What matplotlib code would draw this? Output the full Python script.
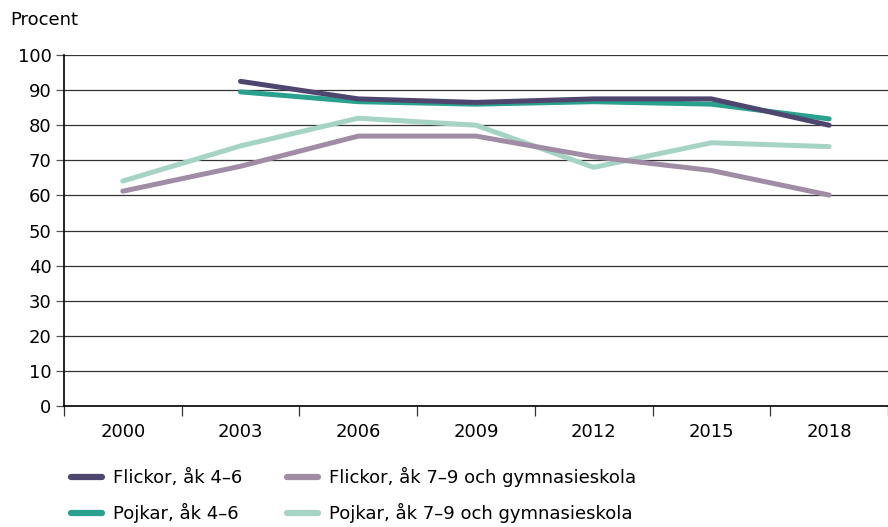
import numpy as np
import matplotlib.pyplot as plt
from matplotlib.lines import Line2D

years = ['2000', '2003', '2006', '2009', '2012', '2015', '2018']
flickor_4_6 = [np.nan, 92.5, 87.5, 86.5, 87.5, 87.5, 80]
pojkar_4_6 = [np.nan, 89.5, 86.7, 86, 86.7, 86, 81.8]
flickor_7_9 = [61.2, 68.3, 76.9, 76.9, 71, 67.1, 60.1]
pojkar_7_9 = [64.1, 74.1, 82, 80, 68, 75, 73.9]

labels = ['Flickor, åk 4–6', 'Pojkar, åk 4–6',
          'Flickor, åk 7–9 och gymnasieskola', 'Pojkar, åk 7–9 och gymnasieskola']
colors = ['#4f4670', '#2aa08e', '#a18ca6', '#a5d4c5']

plt.rcParams['font.family'] = ['DejaVu Sans']

fig = plt.figure(figsize=(8.88, 5.27), dpi=100)
ax = fig.add_axes([0.072, 0.2296, 0.928, 0.666])

x = np.arange(len(years))
series = [flickor_4_6, pojkar_4_6, flickor_7_9, pojkar_7_9]
# light ones first so the dark lines sit on top
for i in [3, 2, 1, 0]:
    ax.plot(x, series[i], color=colors[i], lw=3.6, solid_capstyle='round',
            solid_joinstyle='round', zorder=3)

ax.set_xlim(-0.5, len(years) - 0.5)
ax.set_ylim(0, 100)
ax.set_yticks(range(0, 101, 10))
ax.set_xticks(x)
ax.set_xticklabels(years)
ax.set_xticks(np.arange(-0.5, len(years), 1), minor=True)
ax.tick_params(axis='x', which='major', length=0, pad=12, labelsize=13)
ax.tick_params(axis='x', which='minor', length=7, width=0.9, color='#333333')
ax.tick_params(axis='y', length=6, width=0.9, color='#555555', labelsize=13, pad=3)
ax.grid(axis='y', color='#333333', lw=0.9)
ax.set_axisbelow(True)
for s in ['top', 'right']:
    ax.spines[s].set_visible(False)
ax.spines['left'].set_linewidth(1.2)
ax.spines['bottom'].set_linewidth(1.2)

fig.text(0.011, 0.962, 'Procent', fontsize=13, va='center')

handles = [Line2D([], [], color=c, lw=4.5, solid_capstyle='round') for c in colors]
fig.legend(handles, labels, ncol=2, loc='lower left', bbox_to_anchor=(0.062, -0.024),
           frameon=False, fontsize=13, handlelength=1.7, handletextpad=0.6,
           columnspacing=2.5, labelspacing=0.9)

fig.savefig('out.png', dpi=100)
